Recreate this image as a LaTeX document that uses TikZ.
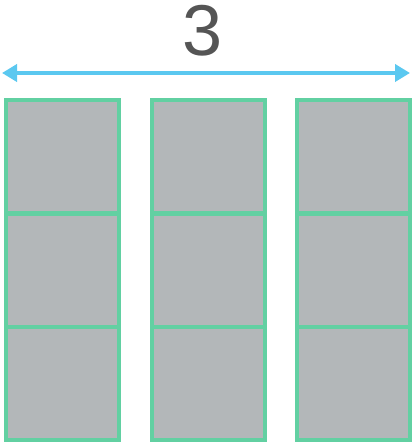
\documentclass[tikz,border=0pt]{standalone}
\usepackage{fontspec}
\setmainfont{Liberation Sans}
\usepackage{tikz}
\usetikzlibrary{arrows.meta, positioning}
\definecolor{cellgray}{HTML}{B3B7B9}
\definecolor{cellgreen}{HTML}{62D0A2}
\definecolor{arrowblue}{HTML}{5BC8F0}
\definecolor{labelgray}{HTML}{555555}

\begin{document}
\begin{tikzpicture}[
			x=1pt, y=-1pt,
			cell/.style={
					draw=cellgreen,
					fill=cellgray,
					line width=4pt,
					minimum width=113pt,
					minimum height=113pt,
					inner sep=0pt
				}
		]
		\useasboundingbox (0, 0) rectangle (411, 443);

		% count label
		\node[text=labelgray, inner sep=0pt, font=\fontsize{72}{72}\selectfont] (count) at (203, 31) {3};

		% width arrow
		\coordinate (left) at (2, 73);
		\coordinate (right) at (410, 73);
		\draw[arrowblue, line width=4pt, {Triangle[length=15pt, width=17pt]}-{Triangle[length=15pt, width=17pt]}] (left) -- (right);

		% first column
		\node[cell] (a1) at (62.5, 156.7) {};
		\node[cell] (a2) at (62.5, 270) {};
		\node[cell] (a3) at (62.5, 383.3) {};

		% second column
		\node[cell] (b1) at (208, 156.7) {};
		\node[cell] (b2) at (208, 270) {};
		\node[cell] (b3) at (208, 383.3) {};

		% third column
		\node[cell] (c1) at (353.5, 156.7) {};
		\node[cell] (c2) at (353.5, 270) {};
		\node[cell] (c3) at (353.5, 383.3) {};
	\end{tikzpicture}
\end{document}
